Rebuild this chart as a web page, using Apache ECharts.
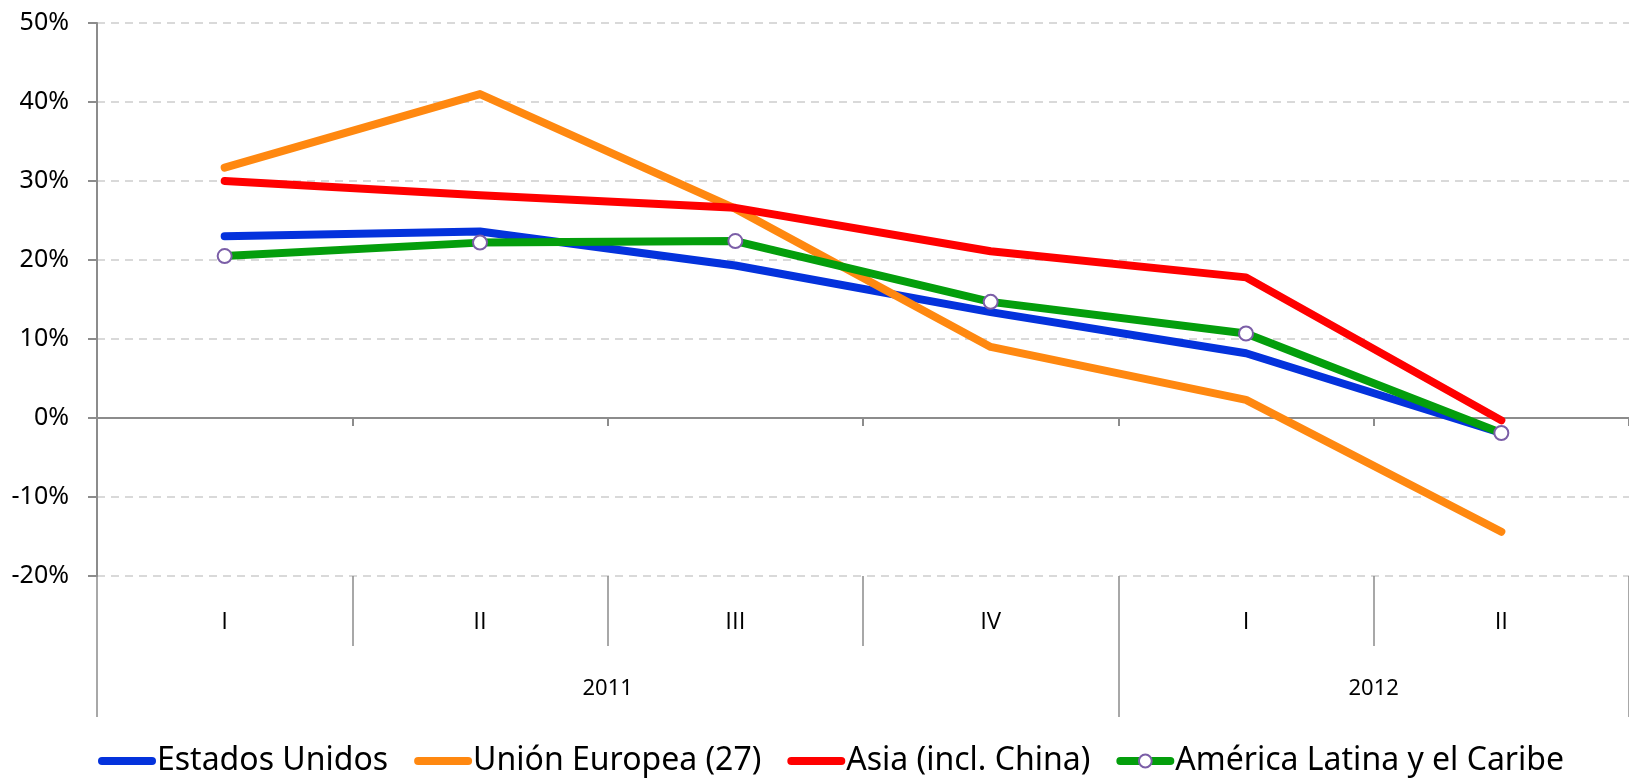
<!DOCTYPE html>
<html>
<head>
<meta charset="utf-8">
<script src="https://cdn.jsdelivr.net/npm/echarts@6/dist/echarts.min.js"></script>
<style>
  html, body { margin: 0; padding: 0; background: #fff; }
  #chart { width: 1629px; height: 780px; }
</style>
</head>
<body>
<div id="chart"></div>
<script>
// trimestres y años
const quarters = ['I', 'II', 'III', 'IV', 'I', 'II'];
const years = ['2011', '2012'];
const yearSpans = [4, 2];

// variación interanual (%)
const estadosUnidos = [23.0, 23.6, 19.3, 13.4, 8.2, -1.9];
const unionEuropea = [31.7, 41.0, 26.5, 9.0, 2.3, -14.4];
const asia = [30.0, 28.2, 26.6, 21.1, 17.8, -0.3];
const americaLatina = [20.5, 22.2, 22.4, 14.7, 10.7, -1.9];

const seriesNames = ['Estados Unidos', 'Unión Europea (27)', 'Asia (incl. China)', 'América Latina y el Caribe'];
const seriesColors = ['#0432dc', '#ff8810', '#ff0000', '#049e0c'];

// límites y centros de los años en unidades de trimestre
const yearBounds = [0];
yearSpans.forEach(s => yearBounds.push(yearBounds[yearBounds.length - 1] + s));
const yearCenters = yearSpans.map((s, i) => yearBounds[i] + s / 2);

const chart = echarts.init(document.getElementById('chart'));
const font = '"Noto Sans", sans-serif';
const axisGray = '#8c8c8c';

const lineSeries = (name, data, color, withMarker) => ({
  name: name,
  type: 'line',
  data: data,
  xAxisIndex: 0,
  symbol: withMarker ? 'circle' : 'none',
  symbolSize: 14,
  showSymbol: withMarker,
  lineStyle: { color: color, width: 8, cap: 'round', join: 'round' },
  itemStyle: withMarker
    ? { color: '#ffffff', borderColor: '#7b5ea7', borderWidth: 2 }
    : { color: color },
  emphasis: { disabled: true },
  animation: false
});

// entradas de la leyenda: sin marcador salvo la última serie
const legendData = seriesNames.map((name, i) => i === 3
  ? { name: name }
  : { name: name, itemStyle: { color: 'rgba(0,0,0,0)', borderWidth: 0 } });

const option = {
  animation: false,
  textStyle: { fontFamily: font },
  grid: { left: 97, right: -6, top: 23, bottom: 204 },
  legend: {
    left: 93,
    top: 740,
    itemGap: 26,
    itemWidth: 50,
    itemHeight: 16,
    lineStyle: { width: 8, cap: 'round' },
    textStyle: { fontFamily: font, fontSize: 32, color: '#000' },
    data: legendData
  },
  xAxis: [
    {
      type: 'category',
      data: quarters,
      boundaryGap: true,
      axisLine: { show: true, onZero: true, lineStyle: { color: axisGray, width: 2 } },
      axisTick: { show: true, length: 8, lineStyle: { color: axisGray, width: 2 } },
      axisLabel: { show: false },
      splitLine: { show: false }
    },
    {
      type: 'category',
      data: quarters,
      boundaryGap: true,
      position: 'bottom',
      axisLine: { show: true, onZero: false, lineStyle: { color: axisGray, width: 0, opacity: 0 } },
      axisTick: { show: true, length: 70, lineStyle: { color: axisGray, width: 1.5 } },
      axisLabel: { show: true, margin: 34, fontFamily: '"Open Sans", sans-serif', fontSize: 24, color: '#000' },
      splitLine: { show: false }
    },
    {
      type: 'value',
      min: 0,
      max: yearBounds[yearBounds.length - 1],
      position: 'bottom',
      axisLine: { show: false, onZero: false },
      axisTick: { show: true, customValues: yearBounds, length: 141, lineStyle: { color: axisGray, width: 1.5 } },
      axisLabel: {
        customValues: yearCenters,
        margin: 102,
        fontFamily: font,
        fontSize: 22,
        color: '#000',
        formatter: v => years[yearCenters.indexOf(v)] || ''
      },
      splitLine: { show: false }
    }
  ],
  yAxis: {
    type: 'value',
    min: -20,
    max: 50,
    interval: 10,
    axisLine: { show: true, lineStyle: { color: axisGray, width: 2 } },
    axisTick: { show: true, length: 9, lineStyle: { color: axisGray, width: 2 } },
    axisLabel: { margin: 28, fontFamily: font, fontSize: 25, color: '#000', formatter: '{value}%' },
    splitLine: { show: true, lineStyle: { color: '#d9d9d9', width: 2, type: [8, 6] } }
  },
  series: [
    lineSeries(seriesNames[0], estadosUnidos, seriesColors[0], false),
    lineSeries(seriesNames[1], unionEuropea, seriesColors[1], false),
    lineSeries(seriesNames[2], asia, seriesColors[2], false),
    lineSeries(seriesNames[3], americaLatina, seriesColors[3], true)
  ]
};

chart.setOption(option);
</script>
</body>
</html>
